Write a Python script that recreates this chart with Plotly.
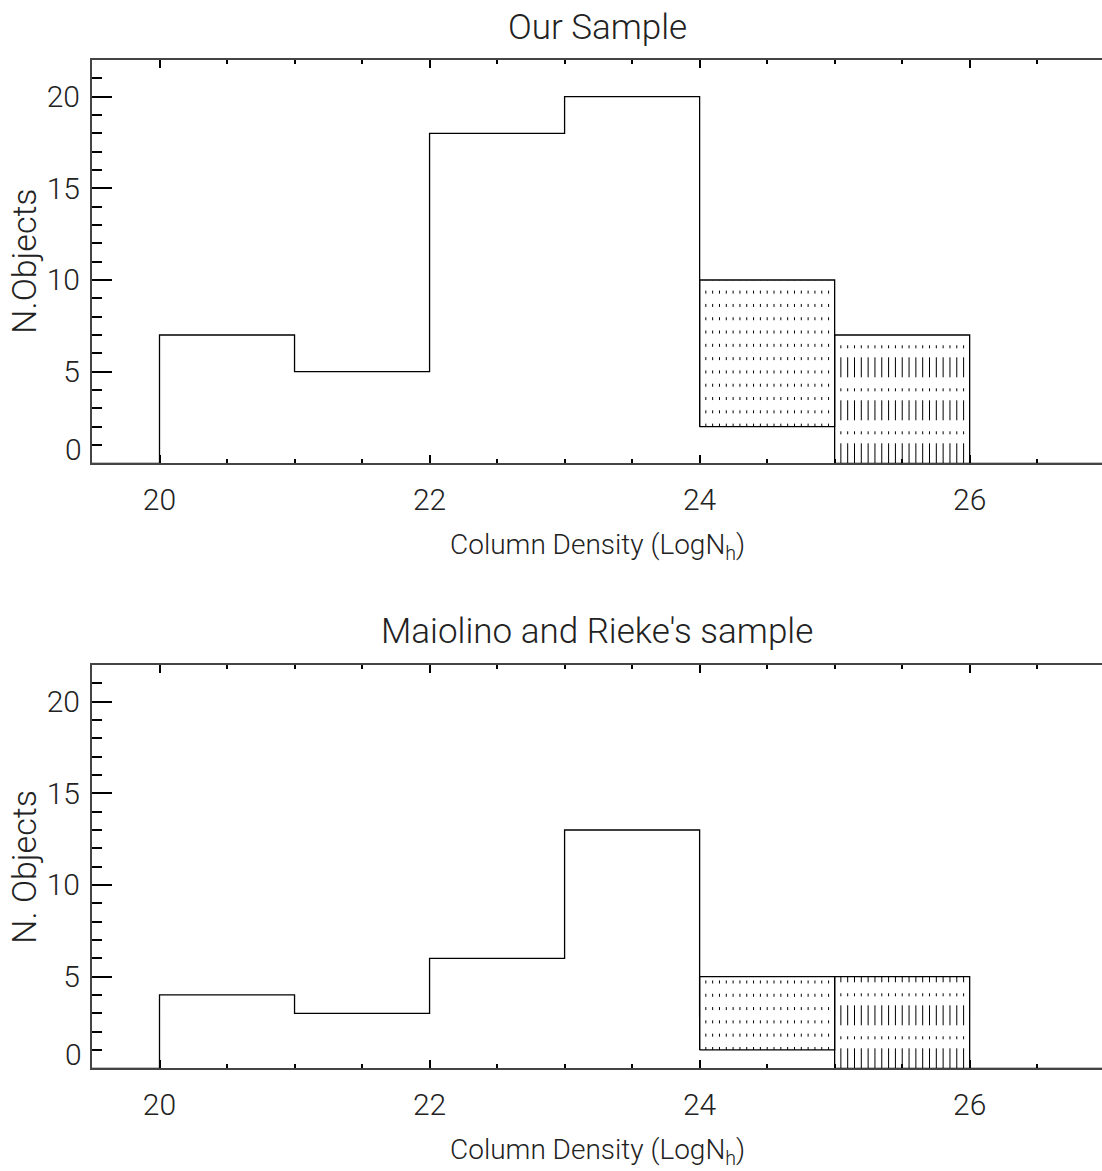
import numpy as np
import plotly.graph_objects as go

# ---------------- data ----------------
bin_left = [20, 21, 22, 23]
top_counts = [7, 5, 18, 20]
bottom_counts = [4, 3, 6, 13]
hatch_left = [24, 25]
top_hatch_low = [2, 0]
top_hatch_high = [10, 7]
bottom_hatch_low = [1, 0]
bottom_hatch_high = [5, 5]
hatch_dashes = ["3px,10.3px", "20px,9px,3px,11px"]
x_tick_vals = [20, 22, 24, 26]
x_tick_text = ["20", "22", "24", "26"]
y_tick_vals = [5, 10, 15, 20]
y_tick_text = ["5", "10", "15", "20"]
zero_label = "0"
panel_titles = ["Our Sample", "Maiolino and Rieke's sample"]
y_titles = ["N.Objects", "N. Objects"]
x_title = "Column Density (LogN<sub>h</sub>)"

# ---------------- layout constants ----------------
W, H = 1102, 1171
L = 92
XMIN, XMAX = 19.5, 26.98
YMIN, YMAX = 0, 22
panels_px = [(60, 463.3), (665, 1068.3)]  # top, bottom pixel rows
FONT = "Roboto, Liberation Sans, sans-serif"
FW = 300
TXT = "#222"

def py2paper(py):
    return (H - py) / H

def px2paper(px):
    return (px - L) / (W - L)

fig = go.Figure()

datasets = [
    (top_counts, top_hatch_low, top_hatch_high),
    (bottom_counts, bottom_hatch_low, bottom_hatch_high),
]

annotations = []
for i, (counts, hlo, hhi) in enumerate(datasets):
    xa = "x" if i == 0 else "x2"
    ya = "y" if i == 0 else "y2"
    # main step histogram
    edges = list(bin_left) + [bin_left[-1] + 1]
    sx = [XMIN] + edges + [edges[-1]]
    sy = [0] + list(counts) + [hlo[0], hlo[0]]
    fig.add_trace(go.Scatter(x=sx, y=sy, mode="lines", line=dict(color="black", width=1.3, shape="hv"),
                             xaxis=xa, yaxis=ya, showlegend=False, hoverinfo="skip"))
    # hatched boxes
    for j, left in enumerate(hatch_left):
        right = left + 1
        lo, hi = hlo[j], hhi[j]
        cols = left + 0.046 + np.arange(19) * 0.0505
        hx, hy = [], []
        for c in cols:
            hx += [c, c, None]
            hy += [lo, hi, None]
        fig.add_trace(go.Scatter(x=hx, y=hy, mode="lines", connectgaps=False,
                                 line=dict(color="black", width=1, dash=hatch_dashes[j]),
                                 xaxis=xa, yaxis=ya, showlegend=False, hoverinfo="skip"))
        fig.add_trace(go.Scatter(x=[left, left, right, right, left], y=[lo, hi, hi, lo, lo], mode="lines",
                                 line=dict(color="black", width=1.3), xaxis=xa, yaxis=ya,
                                 showlegend=False, hoverinfo="skip"))
    # baseline after last box
    last = hatch_left[-1] + 1
    fig.add_trace(go.Scatter(x=[last, XMAX], y=[0, 0], mode="lines", line=dict(color="black", width=1.3),
                             xaxis=xa, yaxis=ya, showlegend=False, hoverinfo="skip"))

    top_px, bot_px = panels_px[i]
    # panel title
    annotations.append(dict(text=panel_titles[i], xref="paper", yref="paper", x=0.5,
                            y=py2paper(top_px - 33), xanchor="center", yanchor="middle",
                            showarrow=False, font=dict(family=FONT, size=35, color=TXT, weight=FW)))
    # x title
    annotations.append(dict(text=x_title, xref="paper", yref="paper", x=0.5,
                            y=py2paper(bot_px + 83), xanchor="center", yanchor="middle",
                            showarrow=False, font=dict(family=FONT, size=28, color=TXT, weight=FW)))
    # y title
    annotations.append(dict(text=y_titles[i], xref="paper", yref="paper", x=px2paper(24),
                            y=py2paper((top_px + bot_px) / 2), xanchor="center", yanchor="middle",
                            textangle=-90, showarrow=False,
                            font=dict(family=FONT, size=34, color=TXT, weight=FW)))
    # zero label (sits on the axis)
    annotations.append(dict(text=zero_label, xref="paper", yref=ya, x=px2paper(84), y=0,
                            xanchor="right", yanchor="bottom", yshift=-6, showarrow=False,
                            font=dict(family=FONT, size=30, color=TXT, weight=FW)))

xaxis_common = dict(range=[XMIN, XMAX], showline=True, linecolor="#444", linewidth=2, mirror="ticks",
                    ticks="inside", ticklen=8, tickwidth=1.5, tickcolor="black",
                    tickvals=x_tick_vals, ticktext=x_tick_text, ticklabelstandoff=9,
                    tickfont=dict(family=FONT, size=30, color=TXT, weight=FW),
                    minor=dict(dtick=0.5, tick0=0, ticks="inside", ticklen=4, tickwidth=1.5, tickcolor="black"),
                    showgrid=False, zeroline=False)
yaxis_common = dict(range=[YMIN, YMAX], showline=True, linecolor="#444", linewidth=2, mirror=False,
                    ticks="inside", ticklen=20, tickwidth=1.5, tickcolor="black",
                    tickvals=y_tick_vals, ticktext=y_tick_text, ticklabelstandoff=4,
                    tickfont=dict(family=FONT, size=30, color=TXT, weight=FW),
                    minor=dict(dtick=1, tick0=0, ticks="inside", ticklen=10, tickwidth=1.5, tickcolor="black"),
                    showgrid=False, zeroline=False)
# right-hand tick-only axes (the right frame line lies outside the picture in the reference)
yaxis_right = dict(range=[YMIN, YMAX], showline=False, side="right",
                   ticks="inside", ticklen=20, tickwidth=1.5, tickcolor="black",
                   tickvals=y_tick_vals, showticklabels=False,
                   minor=dict(dtick=1, tick0=0, ticks="inside", ticklen=10, tickwidth=1.5, tickcolor="black"),
                   showgrid=False, zeroline=False)

fig.update_layout(
    width=W, height=H,
    margin=dict(l=L, r=0, t=0, b=0, pad=0),
    paper_bgcolor="white", plot_bgcolor="white",
    xaxis=dict(xaxis_common, anchor="y", domain=[0, 1]),
    yaxis=dict(yaxis_common, anchor="x", domain=[py2paper(panels_px[0][1]), py2paper(panels_px[0][0])]),
    xaxis2=dict(xaxis_common, anchor="y2", domain=[0, 1]),
    yaxis2=dict(yaxis_common, anchor="x2", domain=[py2paper(panels_px[1][1]), py2paper(panels_px[1][0])]),
    yaxis3=dict(yaxis_right, anchor="x", overlaying="y"),
    yaxis4=dict(yaxis_right, anchor="x2", overlaying="y2"),
    annotations=annotations,
    showlegend=False,
)

fig.write_html("out.html", config={"displayModeBar": False},
               post_script="document.body.style.margin='0';document.body.style.overflow='hidden';")
